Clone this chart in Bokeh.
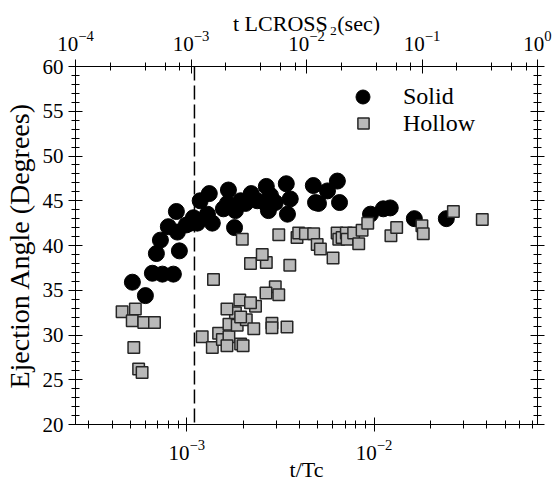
from bokeh.plotting import figure
from bokeh.models import (LogAxis, LinearAxis, Range1d, Span, Legend, LegendItem,
                          LogTicker, SingleIntervalTicker, LogScale, CustomJSTickFormatter)
from bokeh.embed import file_html
from bokeh.resources import INLINE

# ---------------- data ----------------
solid_t = [5.13e-4, 6.02e-4, 6.56e-4, 7.42e-4, 8.49e-4, 6.89e-4, 9.14e-4, 7.24e-4, 7.98e-4, 8.92e-4,
           8.81e-4, 9.96e-4, 1.047e-3, 1.086e-3, 1.18e-3, 1.14e-3, 1.29e-3, 1.32e-3, 1.37e-3, 1.57e-3,
           1.65e-3, 1.67e-3, 1.80e-3, 1.82e-3, 1.94e-3, 2.06e-3, 2.21e-3, 2.38e-3, 2.63e-3, 2.66e-3,
           2.73e-3, 2.80e-3, 2.97e-3, 3.40e-3, 3.45e-3, 3.57e-3, 4.74e-3, 4.87e-3, 5.05e-3, 5.64e-3,
           6.37e-3, 6.54e-3, 9.57e-3, 1.12e-2, 1.22e-2, 1.64e-2, 2.43e-2]
solid_angle = [35.9, 34.4, 36.9, 36.8, 36.8, 39.1, 39.4, 40.6, 42.1, 41.5,
               43.8, 42.3, 42.5, 43.1, 45.0, 42.5, 43.5, 45.8, 42.5, 44.1,
               44.7, 46.2, 42.0, 43.9, 45.0, 44.7, 45.8, 45.0, 44.7, 46.6,
               43.9, 45.6, 44.8, 46.9, 43.5, 45.2, 46.7, 44.8, 44.7, 46.1,
               47.2, 44.8, 43.5, 44.1, 44.2, 43.0, 43.0]

hollow_t = [4.52e-4, 5.32e-4, 5.12e-4, 5.90e-4, 6.73e-4, 5.22e-4, 5.54e-4, 5.78e-4,
            1.21e-3, 1.37e-3, 1.39e-3, 1.48e-3, 1.55e-3, 1.68e-3, 1.64e-3, 1.94e-3, 2.00e-3,
            1.68e-3, 1.86e-3, 1.82e-3, 1.64e-3, 2.08e-3, 1.94e-3, 2.28e-3, 2.33e-3, 1.92e-3, 2.19e-3,
            2.85e-3, 2.85e-3, 3.43e-3, 2.97e-3, 2.65e-3, 3.10e-3,
            2.19e-3, 2.66e-3, 2.53e-3, 3.55e-3, 6.04e-3,
            1.98e-3, 3.10e-3, 3.88e-3, 3.96e-3, 4.30e-3, 4.76e-3, 4.97e-3, 5.17e-3,
            6.35e-3, 6.48e-3, 6.75e-3, 7.11e-3, 7.18e-3, 7.78e-3, 8.28e-3, 8.63e-3, 9.25e-3,
            1.23e-2, 1.32e-2, 1.80e-2, 1.83e-2, 2.65e-2, 3.78e-2]
hollow_angle = [32.6, 32.9, 31.6, 31.4, 31.4, 28.6, 26.2, 25.8,
                29.8, 28.6, 36.2, 30.2, 29.5, 29.8, 28.8, 29.0, 28.8,
                31.2, 31.1, 32.5, 32.9, 31.7, 32.0, 30.7, 33.2, 33.9, 33.6,
                31.3, 30.8, 30.9, 35.4, 34.7, 34.5,
                38.0, 38.1, 39.0, 37.8, 38.6,
                40.7, 41.2, 40.9, 41.4, 41.3, 41.3, 40.1, 39.6,
                41.4, 40.7, 40.9, 41.4, 40.7, 41.4, 40.2, 41.7, 42.5,
                41.1, 42.0, 42.2, 41.3, 43.8, 42.9]

critical_t = 1.1e-3          # dashed reference line (t/Tc)
x_limits = (2.55e-4, 0.0745) # t/Tc
y_limits = (20, 60)
top_limits = (1e-4, 1.0)     # t LCROSS (sec)

FONT = "Liberation Serif"

p = figure(width=553, height=484, x_axis_type="log",
           x_range=Range1d(*x_limits), y_range=Range1d(*y_limits),
           output_backend="svg", toolbar_location=None,
           min_border_left=75, min_border_right=16, min_border_top=66, min_border_bottom=60)
p.grid.visible = False
p.outline_line_color = "black"
p.background_fill_color = "white"

bottom_axis = p.below[0]
left_axis = p.left[0]

p.extra_x_ranges = {"top": Range1d(*top_limits)}
p.extra_x_scales = {"top": LogScale()}

top_axis = LogAxis(x_range_name="top", ticker=LogTicker(), axis_label="t LCROSS\u200a\u2082(sec)")
p.add_layout(top_axis, "above")
right_axis = LinearAxis(ticker=SingleIntervalTicker(interval=5, num_minor_ticks=5),
                        formatter=CustomJSTickFormatter(code="return ''"))
p.add_layout(right_axis, "right")

left_axis.ticker = SingleIntervalTicker(interval=5, num_minor_ticks=5)
bottom_axis.axis_label = "t/Tc"
left_axis.axis_label = "Ejection Angle (Degrees)"

for ax in [bottom_axis, top_axis, left_axis, right_axis]:
    ax.major_tick_in = 7
    ax.major_tick_out = 7
    ax.minor_tick_in = 4
    ax.minor_tick_out = 4
    ax.axis_line_color = "black"
    ax.major_tick_line_color = "black"
    ax.minor_tick_line_color = "black"
    ax.major_label_text_font = FONT
    ax.major_label_text_font_size = "21px"
    ax.major_label_text_color = "black"
    ax.axis_label_text_font = FONT
    ax.axis_label_text_font_style = "normal"
    ax.axis_label_text_color = "black"
    ax.axis_label_text_font_size = "22px"

left_axis.axis_label_text_font_size = "28px"
left_axis.major_label_standoff = 5
left_axis.axis_label_standoff = 5
bottom_axis.major_label_standoff = 8
bottom_axis.axis_label_standoff = -6
top_axis.major_label_standoff = 9
top_axis.axis_label_standoff = -8

vline = Span(location=critical_t, dimension="height", line_color="black",
             line_dash="14 5", line_width=1.5)
p.add_layout(vline)

r_s = p.scatter(solid_t, solid_angle, marker="circle", size=16,
                fill_color="black", line_color="black")
r_h = p.scatter(hollow_t, hollow_angle, marker="square", size=11.5,
                fill_color="#b9b9b9", line_color="#262626", line_width=1.5)

leg1 = Legend(items=[LegendItem(label="Solid", renderers=[r_s])], location=(270, 310),
              glyph_width=35, glyph_height=35, label_standoff=23, padding=0, margin=0,
              border_line_alpha=0, background_fill_alpha=0,
              label_text_font=FONT, label_text_font_size="24px", label_text_color="black")
leg2 = Legend(items=[LegendItem(label="Hollow", renderers=[r_h])], location=(274, 287),
              glyph_width=28, glyph_height=28, label_standoff=26, padding=0, margin=0,
              border_line_alpha=0, background_fill_alpha=0,
              label_text_font=FONT, label_text_font_size="24px", label_text_color="black")
p.add_layout(leg1)
p.add_layout(leg2)

open("out.html", "w").write(file_html(p, INLINE))
